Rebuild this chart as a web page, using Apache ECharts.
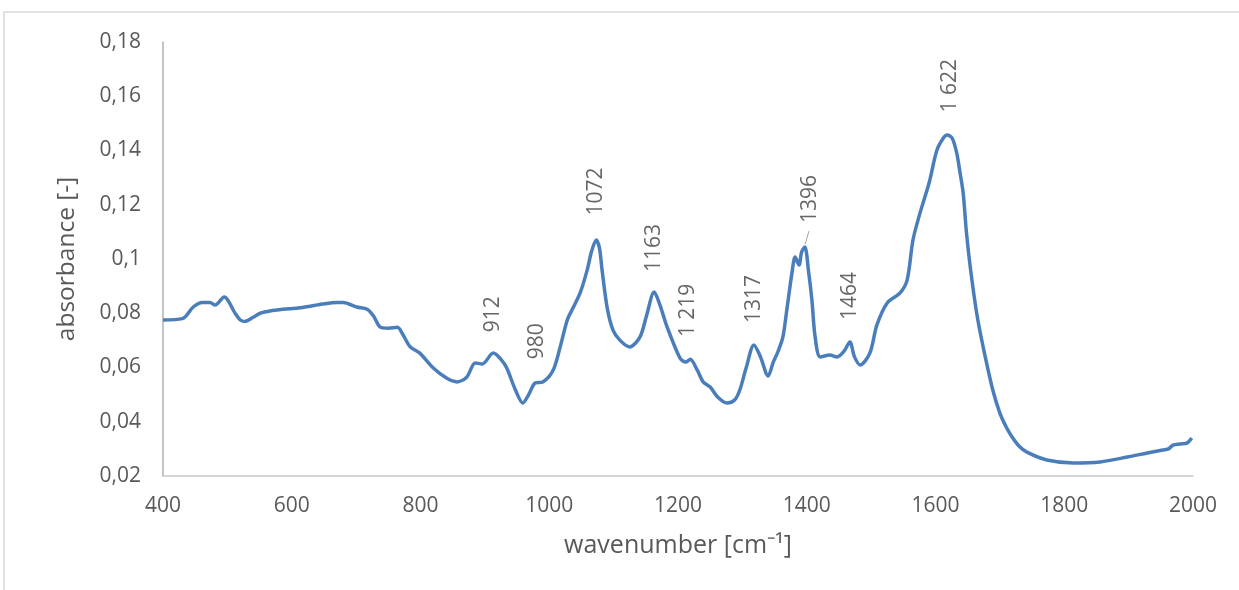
<!DOCTYPE html>
<html>
<head>
<meta charset="utf-8">
<script src="https://cdn.jsdelivr.net/npm/echarts@6/dist/echarts.min.js"></script>
<style>
html,body{margin:0;padding:0;background:#fff;}
#c{width:1239px;height:590px;}
</style>
</head>
<body>
<div id="c"></div>
<script>
var wavenumber = [400,430,447,461,473,481,495,512,520,527,540,551,570,586,613,648,670,680,701,717,727,737,750,764,773,784,799,819,841,857,872,885,896,913,925,934,947,959,968,978,990,1006,1017,1028,1037,1048,1059,1066,1073,1078,1082,1090,1099,1110,1125,1141,1151,1163,1172,1183,1203,1212,1219,1230,1239,1250,1262,1276,1288,1296,1306,1318,1328,1340,1348,1355,1363,1369,1377,1382,1388,1392,1397,1403,1408,1413,1421,1436,1447,1458,1467,1474,1483,1498,1509,1525,1545,1556,1565,1576,1590,1602,1612,1618,1626,1633,1638,1643,1648,1654,1664,1674,1689,1700,1710,1719,1730,1742,1773,1814,1856,1898,1929,1953,1962,1969,1980,1991,1998];
var absorbance = [0.0775,0.078,0.0823,0.084,0.084,0.083,0.086,0.080,0.0775,0.077,0.0785,0.080,0.081,0.0815,0.082,0.0834,0.084,0.084,0.0823,0.0815,0.079,0.075,0.0745,0.0748,0.072,0.0676,0.0653,0.060,0.056,0.0547,0.0565,0.0617,0.0613,0.0653,0.063,0.0598,0.052,0.0469,0.050,0.0543,0.0547,0.059,0.0676,0.0775,0.082,0.0875,0.096,0.103,0.107,0.104,0.096,0.082,0.0738,0.070,0.0676,0.0713,0.079,0.0878,0.083,0.075,0.0635,0.062,0.063,0.059,0.0547,0.0528,0.049,0.0469,0.048,0.0517,0.060,0.0683,0.064,0.0569,0.062,0.0657,0.0713,0.0812,0.0948,0.1007,0.0978,0.1026,0.1044,0.095,0.0849,0.0713,0.0639,0.0646,0.0639,0.066,0.0694,0.064,0.0609,0.0653,0.0757,0.0838,0.0875,0.0923,0.107,0.117,0.128,0.140,0.1445,0.1457,0.1445,0.139,0.132,0.1243,0.11,0.097,0.08,0.0676,0.0517,0.0432,0.038,0.0344,0.031,0.0288,0.0259,0.0248,0.0252,0.027,0.0285,0.0296,0.030,0.0314,0.0318,0.0322,0.034];

var peakText = ['912','980','1072','1163','1 219','1317','1396','1464','1 622'];
var peakLabelX = [912,981,1072,1163,1216,1318,1405,1467,1622];
var peakLabelY = [0.073,0.063,0.116,0.0952,0.0712,0.0764,0.1133,0.0775,0.154];

var leaderX = [1397.5,1403.5];
var leaderY = [0.1055,0.1103];

var xTicks = {min:400, max:2000, interval:200};
var yTicks = {min:0.02, max:0.18, interval:0.02};

var FONT = 'Open Sans';
var TXT = '#595959';

var lineData = wavenumber.map(function(w,i){return [w, absorbance[i]];});
var labelData = peakText.map(function(t,i){return {value:[peakLabelX[i], peakLabelY[i]], name:t};});
var leaderData = leaderX.map(function(w,i){return [w, leaderY[i]];});

var chart = echarts.init(document.getElementById('c'), null, {renderer:'canvas'});
chart.setOption({
  animation:false,
  backgroundColor:'#fff',
  graphic:[{type:'rect', shape:{x:4,y:12,width:1300,height:640}, style:{fill:'none', stroke:'#d9d9d9', lineWidth:1.5}, silent:true, z:-1}],
  grid:{left:163, right:46, top:42, bottom:114},
  xAxis:{
    type:'value', min:xTicks.min, max:xTicks.max, interval:xTicks.interval,
    name:'wavenumber [cm⁻¹]', nameLocation:'middle', nameGap:57,
    nameTextStyle:{color:TXT, fontFamily:FONT, fontSize:25},
    axisLine:{show:true, lineStyle:{color:'#c8c8c8', width:1.5}},
    axisTick:{show:false},
    splitLine:{show:false},
    axisLabel:{color:TXT, fontFamily:FONT, fontSize:21, margin:20,
      formatter:function(v){return String(v);}}
  },
  yAxis:{
    type:'value', min:yTicks.min, max:yTicks.max, interval:yTicks.interval,
    name:'absorbance [-]', nameLocation:'middle', nameGap:83,
    nameTextStyle:{color:TXT, fontFamily:FONT, fontSize:24.5},
    axisLine:{show:true, lineStyle:{color:'#b0b0b0', width:1.5}},
    axisTick:{show:false},
    splitLine:{show:false},
    axisLabel:{color:TXT, fontFamily:FONT, fontSize:21, margin:22,
      formatter:function(v){return String(+v.toFixed(2)).replace('.', ',');}}
  },
  series:[
    {type:'line', data:lineData, smooth:0.3, showSymbol:false, symbol:'none',
     lineStyle:{color:'#4a7ebb', width:3.5}, z:3},
    {type:'line', data:leaderData, showSymbol:false, symbol:'none',
     lineStyle:{color:'#a6a6a6', width:1}, z:2},
    {type:'scatter', data:labelData, symbolSize:0, z:4,
     label:{show:true, position:[0,0], rotate:90, align:'left', verticalAlign:'middle',
       formatter:function(p){return p.name;}, color:'#404040', fontFamily:FONT, fontSize:21}}
  ]
});
</script>
</body>
</html>
